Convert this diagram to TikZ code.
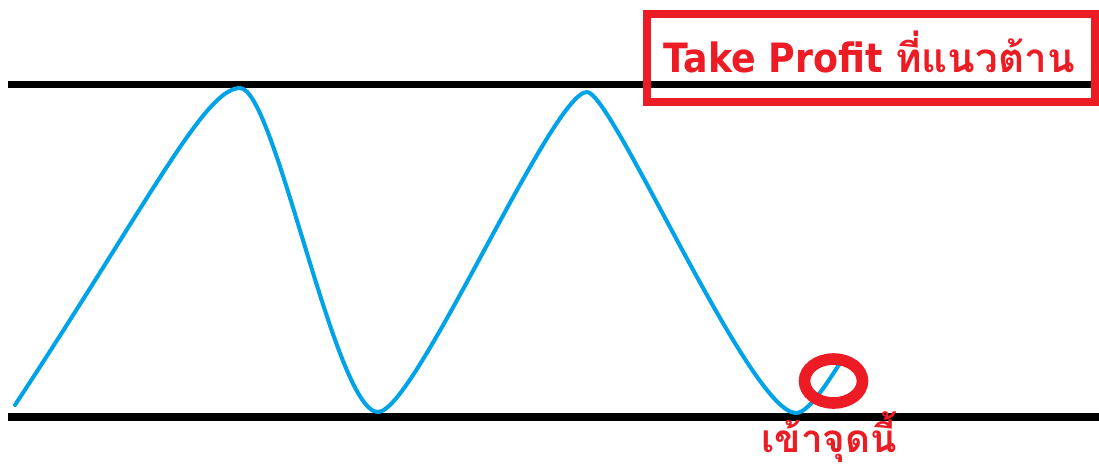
\documentclass[tikz,border=0pt]{standalone}
\usepackage{fontspec}
\setmainfont{DejaVu Sans}[FakeStretch=0.9]
\newfontfamily\thaifont[Script=Thai]{Loma}
\usetikzlibrary{positioning}
\definecolor{tpRed}{RGB}{237,28,36}
\definecolor{tpBlue}{RGB}{0,162,232}

\begin{document}
\begin{tikzpicture}[
  x=0.02cm, y=-0.02cm,
  level/.style={line width=4pt, black},
  price/.style={line width=2.3pt, tpBlue, line join=round, line cap=round},
  tpbox/.style={draw=tpRed, line width=4.6pt},
  entryring/.style={draw=tpRed, line width=6.6pt},
  redtext/.style={font=\bfseries\fontsize{23}{25}\selectfont, text=tpRed, inner sep=0pt}
]
\useasboundingbox (0,0) rectangle (1099,468);

% support and resistance
\draw[level] (8,84.5) coordinate (resL) -- (1099,84.5) coordinate (resR);
\draw[level] (8,417) coordinate (supL) -- (1099,417) coordinate (supR);

% swing points
\coordinate (start) at (15,405);
\coordinate (top1) at (240,88);
\coordinate (low1) at (378,412);
\coordinate (top2) at (587,92);
\coordinate (low2) at (796,413);
\coordinate (entryPt) at (840,363);

% price swings
\draw[price] (start) .. controls (150,200) and (205,88) .. (top1)
  .. controls (275,88) and (335,412) .. (low1)
  .. controls (415,412) and (552,92) .. (top2)
  .. controls (612,92) and (750,413) .. (low2)
  .. controls (808,413) and (826,385) .. (entryPt);

% take profit label
\draw[tpbox] (647,14) rectangle (1095,102);
\node[redtext, anchor=base west] (tp) at (663,72) {Take Profit {\thaifont ที่แนวต้าน}};

% entry point
\draw[entryring] (833.5,381) ellipse [x radius=29, y radius=22];
\node[redtext, anchor=base west, font=\bfseries\fontsize{22}{24}\selectfont] (entry) at (761,452.5) {\thaifont เข้าจุดนี้};
\end{tikzpicture}
\end{document}
